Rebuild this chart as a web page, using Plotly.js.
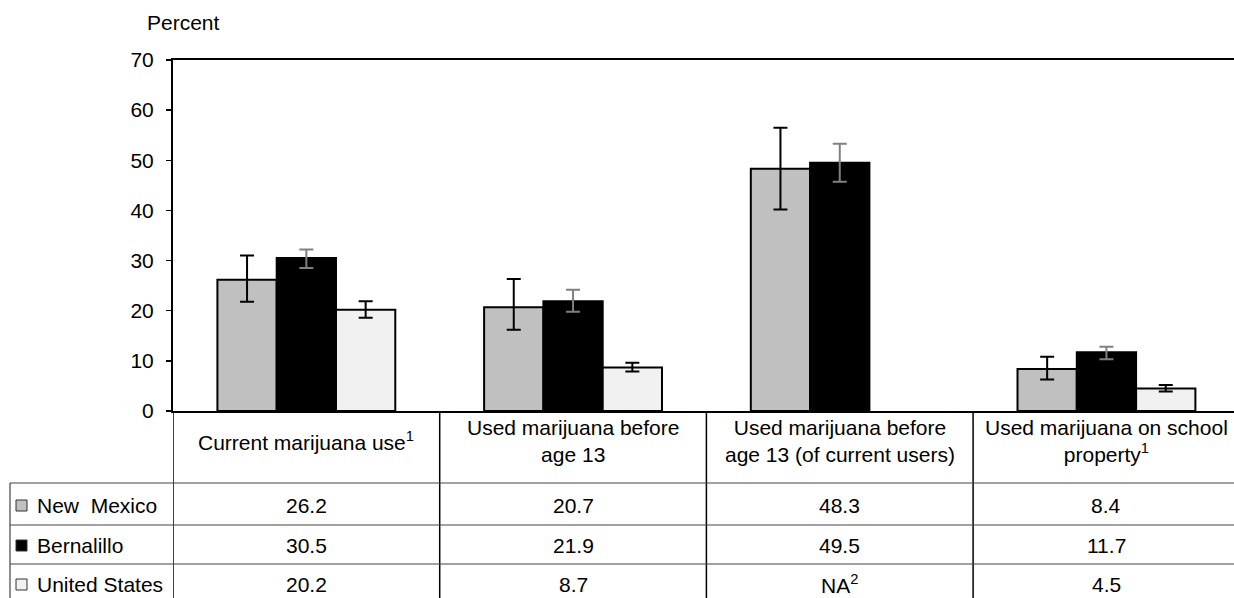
<!DOCTYPE html>
<html>
<head>
<meta charset="utf-8">
<script src="https://cdn.plot.ly/plotly-3.0.1.min.js"></script>
<style>html,body{margin:0;padding:0;background:#fff;}#chart{width:1234px;height:598px;}</style>
</head>
<body>
<div id="chart"></div>
<script>
// ---- data ----
const categories = [
  "Current marijuana use<sup>1</sup>",
  "Used marijuana before<br>age 13",
  "Used marijuana before<br>age 13 (of current users)",
  "Used marijuana on school<br>property<sup>1</sup>"
];
const seriesNames = ["New\u00a0\u00a0Mexico", "Bernalillo", "United States"];
const newMexico   = [26.2, 20.7, 48.3, 8.4];
const bernalillo  = [30.5, 21.9, 49.5, 11.7];
const unitedStates = [20.2, 8.7, null, 4.5];
const nmLow  = [21.8, 16.2, 40.2, 6.3];
const nmHigh = [31.0, 26.3, 56.5, 10.8];
const beLow  = [28.5, 19.8, 45.7, 10.3];
const beHigh = [32.2, 24.2, 53.3, 12.8];
const usLow  = [18.6, 7.9, null, 3.9];
const usHigh = [21.9, 9.6, null, 5.2];
const tableNM = ["26.2", "20.7", "48.3", "8.4"];
const tableBE = ["30.5", "21.9", "49.5", "11.7"];
const tableUS = ["20.2", "8.7", "NA<sup>2</sup>", "4.5"];
const yTicks = [0, 10, 20, 30, 40, 50, 60, 70];

// ---- build ----
const xIdx = categories.map((c, i) => i);
function plus(v, hi) { return v.map((d, i) => (d == null ? null : +(hi[i] - d).toFixed(2))); }
function minus(v, lo) { return v.map((d, i) => (d == null ? null : +(d - lo[i]).toFixed(2))); }

const fills = ["#c0c0c0", "#000000", "#f1f1f1"];
const errCols = ["#000000", "#808080", "#000000"];
const vals = [newMexico, bernalillo, unitedStates];
const los = [nmLow, beLow, usLow];
const his = [nmHigh, beHigh, usHigh];

const traces = vals.map((v, k) => ({
  type: "bar",
  x: xIdx,
  y: v,
  name: seriesNames[k],
  marker: { color: fills[k], line: { color: "#000", width: 2 } },
  error_y: {
    type: "data", symmetric: false,
    array: plus(v, his[k]), arrayminus: minus(v, los[k]),
    color: errCols[k], thickness: 2, width: 7
  },
  hoverinfo: "skip"
}));

const L = 173, W = 1061, T = 60, H = 351;
const px2x = p => (p - L) / W;
const py2y = p => (T + H - p) / H;
const font = { family: "Liberation Sans, Arial, sans-serif", size: 21, color: "#000" };

const shapes = [];
const annotations = [];
// vertical dividers at category boundaries
for (let i = 0; i <= categories.length; i++) {
  shapes.push({ type: "line", xref: "x", yref: "paper", x0: i - 0.5, x1: i - 0.5,
    y0: 0, y1: py2y(610), line: { color: "#000", width: 1.5 } });
}
// horizontal rows
const rowLines = [483, 525, 564, 603];
rowLines.forEach(p => shapes.push({ type: "line", xref: "paper", yref: "paper",
  x0: px2x(10), x1: 1.02, y0: py2y(p), y1: py2y(p), line: { color: "#444", width: 1.2 } }));
shapes.push({ type: "line", xref: "paper", yref: "paper", x0: px2x(10), x1: px2x(10),
  y0: py2y(483), y1: py2y(610), line: { color: "#444", width: 1.2 } });

// header labels
categories.forEach((c, i) => annotations.push({ xref: "x", yref: "paper", x: i,
  y: py2y(441), text: c, showarrow: false, font: font, xanchor: "center", yanchor: "middle" }));

// row data
const rowY = [505, 545, 584];
[tableNM, tableBE, tableUS].forEach((row, r) => {
  row.forEach((t, i) => annotations.push({ xref: "x", yref: "paper", x: i, y: py2y(rowY[r]),
    text: t, showarrow: false, font: font, xanchor: "center", yanchor: "middle" }));
  annotations.push({ xref: "paper", yref: "paper", x: px2x(35), y: py2y(rowY[r]),
    text: seriesNames[r], showarrow: false, font: font, xanchor: "left", yanchor: "middle" });
  shapes.push({ type: "rect", xref: "paper", yref: "paper",
    x0: px2x(16), x1: px2x(27), y0: py2y(rowY[r] + 6), y1: py2y(rowY[r] - 5),
    fillcolor: fills[r], line: { color: "#333", width: 1 } });
});

annotations.push({ xref: "paper", yref: "paper", x: px2x(145), y: py2y(22), text: "Percent",
  showarrow: false, font: font, xanchor: "left", yanchor: "middle" });

const layout = {
  width: 1234, height: 598,
  margin: { l: L, r: 0, t: T, b: 598 - T - H, pad: 0 },
  paper_bgcolor: "#fff", plot_bgcolor: "#fff",
  barmode: "group", bargap: 0.333, bargroupgap: 0,
  showlegend: false,
  font: font,
  xaxis: {
    range: [-0.5, -0.5 + W / 266.7], showticklabels: false, ticks: "",
    showline: true, linecolor: "#000", linewidth: 2, mirror: true,
    showgrid: false, zeroline: false, fixedrange: true
  },
  yaxis: {
    range: [0, 70], tickvals: yTicks, ticktext: yTicks.map(String),
    ticks: "outside", ticklen: 5, tickwidth: 1.5, tickcolor: "#000",
    showline: true, linecolor: "#000", linewidth: 2,
    showgrid: false, zeroline: false, tickfont: font, ticklabelstandoff: 8,
    fixedrange: true
  },
  shapes: shapes,
  annotations: annotations
};

Plotly.newPlot("chart", traces, layout, { staticPlot: true, displayModeBar: false });
</script>
</body>
</html>
